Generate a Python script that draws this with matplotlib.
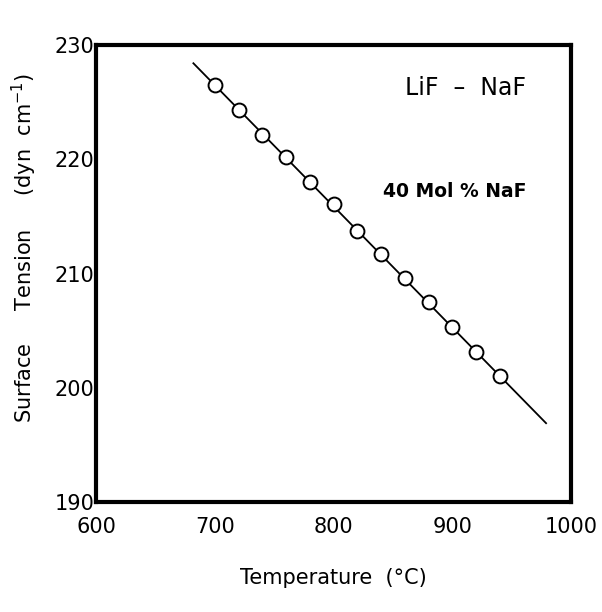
import matplotlib
matplotlib.use("Agg")
import matplotlib.pyplot as plt
import numpy as np

# datos
temperatura = [700, 720, 740, 760, 780, 800, 820, 840, 860, 880, 900, 920, 940]
tension = [226.5, 224.3, 222.1, 220.2, 218.0, 216.1, 213.7, 211.7, 209.6, 207.5, 205.3, 203.1, 201.0]
recta_t = [682, 979]
recta_g = [228.4, 196.9]

x_ticks = [600, 700, 800, 900, 1000]
y_ticks = [190, 200, 210, 220, 230]

plt.rcParams["font.family"] = ["DejaVu Sans"]

fig = plt.figure(figsize=(6.02, 6.12), dpi=100)
ax = fig.add_axes([0.1595, 0.1797, 0.789, 0.7468])

ax.plot(recta_t, recta_g, color="black", linewidth=1.3, zorder=2)
ax.plot(temperatura, tension, linestyle="none", marker="o", markersize=10,
        markerfacecolor="white", markeredgecolor="black", markeredgewidth=1.4, zorder=3)

ax.set_xlim(600, 1000)
ax.set_ylim(190, 230)
ax.set_xticks(x_ticks)
ax.set_yticks(y_ticks)
ax.tick_params(length=0, labelsize=15)
ax.tick_params(axis="x", pad=11)
ax.tick_params(axis="y", pad=1)

for s in ax.spines.values():
    s.set_linewidth(3)

ax.text(0.777, 0.906, "LiF  –  NaF", transform=ax.transAxes, ha="center", va="center", fontsize=17)
ax.text(0.756, 0.68, "40 Mol % NaF", transform=ax.transAxes, ha="center", va="center",
        fontsize=13.5, fontweight="semibold")

ax.set_xlabel("Temperature  (°C)", fontsize=15, labelpad=22)
ax.set_ylabel("Surface     Tension     (dyn  cm$^{-1}$)", fontsize=15)
ax.yaxis.set_label_coords(-0.12, 0.555)

fig.savefig("out.png", dpi=100)
